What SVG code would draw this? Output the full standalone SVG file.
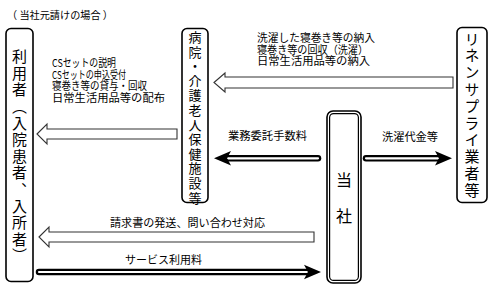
<svg xmlns="http://www.w3.org/2000/svg" width="492" height="290" viewBox="0 0 492 290">
<style>
text{font-family:"Noto Sans CJK JP","Noto Sans CJK SC",sans-serif;fill:#000}
.lbl{font-size:11px}
.v{writing-mode:vertical-rl;text-orientation:upright}
.box{fill:#fff;stroke:#000;stroke-width:1.6}
.hollow{fill:#fff;stroke:#333;stroke-width:1.1;stroke-linejoin:miter}
.shaftO{stroke:#000;stroke-width:6.5;stroke-linecap:round;fill:none}
.shaftI{stroke:#fff;stroke-width:2.2;stroke-linecap:round;fill:none}
.head{fill:#000}
</style>
<rect width="492" height="290" fill="#fff"/>
<text x="7" y="18.5" font-size="10.5" textLength="106" lengthAdjust="spacingAndGlyphs">（ 当社元請けの場合 ）</text>

<g id="user">
<rect class="box" x="6" y="28.5" width="27" height="253" rx="5"/>
<text class="v" x="19.5" y="49" font-size="15" letter-spacing="1.6">利用者（入院患者、入所者）</text>
</g>

<g id="hospital">
<rect class="box" x="182" y="28.5" width="26" height="174" rx="5"/>
<text class="v" x="195" y="30.5" font-size="13" letter-spacing="1.6">病院・介護老人保健施設等</text>
</g>

<g id="linen">
<rect class="box" x="457" y="27.5" width="30" height="175" rx="5"/>
<text class="v" x="472" y="31.5" font-size="15" letter-spacing="1.8">リネンサプライ業者等</text>
</g>

<g id="company">
<rect class="box" x="327" y="111" width="34" height="172" rx="6"/>
<rect fill="none" stroke="#000" stroke-width="1.2" x="329.6" y="113.6" width="28.8" height="166.8" rx="4"/>
<text x="344" y="186" font-size="16" text-anchor="middle">当</text>
<text x="344" y="222" font-size="16" text-anchor="middle">社</text>
</g>

<g id="connectors">
<path class="hollow" d="M214,82.5 L225,73 L225,77 L453,77 L453,88 L225,88 L225,92 Z"/>
<path class="hollow" d="M37,134 L47,124 L47,129 L177,129 L177,139 L47,139 L47,144 Z"/>
<path class="hollow" d="M39,237 L49,227 L49,232 L314,232 L314,242 L49,242 L49,247 Z"/>

<line class="shaftO" x1="228" y1="158.3" x2="318" y2="158.3"/>
<line class="shaftI" x1="228" y1="158.3" x2="318" y2="158.3"/>
<path class="head" d="M214,158.3 L231,151 L227,158.3 L231,165.6 Z"/>

<line class="shaftO" x1="366" y1="158.3" x2="438" y2="158.3"/>
<line class="shaftI" x1="366" y1="158.3" x2="438" y2="158.3"/>
<path class="head" d="M452,158.3 L435,151 L439,158.3 L435,165.6 Z"/>

<line class="shaftO" x1="39" y1="272" x2="307" y2="272"/>
<line class="shaftI" x1="39" y1="272" x2="307" y2="272"/>
<path class="head" d="M321,272 L304,264.7 L308,272 L304,279.3 Z"/>
</g>

<g id="labels">
<text class="lbl" x="257" y="42" textLength="118" lengthAdjust="spacingAndGlyphs">洗濯した寝巻き等の納入</text>
<text class="lbl" x="257" y="53.5" textLength="111" lengthAdjust="spacingAndGlyphs">寝巻き等の回収（洗濯）</text>
<text class="lbl" x="257" y="65" textLength="113" lengthAdjust="spacingAndGlyphs">日常生活用品等の納入</text>

<text class="lbl" x="52" y="67" textLength="64" lengthAdjust="spacingAndGlyphs">CSセットの説明</text>
<text class="lbl" x="52" y="78.7" textLength="74" lengthAdjust="spacingAndGlyphs">CSセットの申込受付</text>
<text class="lbl" x="52" y="90.3" textLength="95" lengthAdjust="spacingAndGlyphs">寝巻き等の貸与・回収</text>
<text class="lbl" x="52" y="102" textLength="113" lengthAdjust="spacingAndGlyphs">日常生活用品等の配布</text>

<text class="lbl" x="228" y="140" textLength="79" lengthAdjust="spacingAndGlyphs">業務委託手数料</text>
<text class="lbl" x="382" y="141" textLength="56" lengthAdjust="spacingAndGlyphs">洗濯代金等</text>
<text class="lbl" x="110" y="227" textLength="155" lengthAdjust="spacingAndGlyphs">請求書の発送、問い合わせ対応</text>
<text class="lbl" x="125" y="263.5" textLength="77" lengthAdjust="spacingAndGlyphs">サービス利用料</text>
</g>
</svg>
